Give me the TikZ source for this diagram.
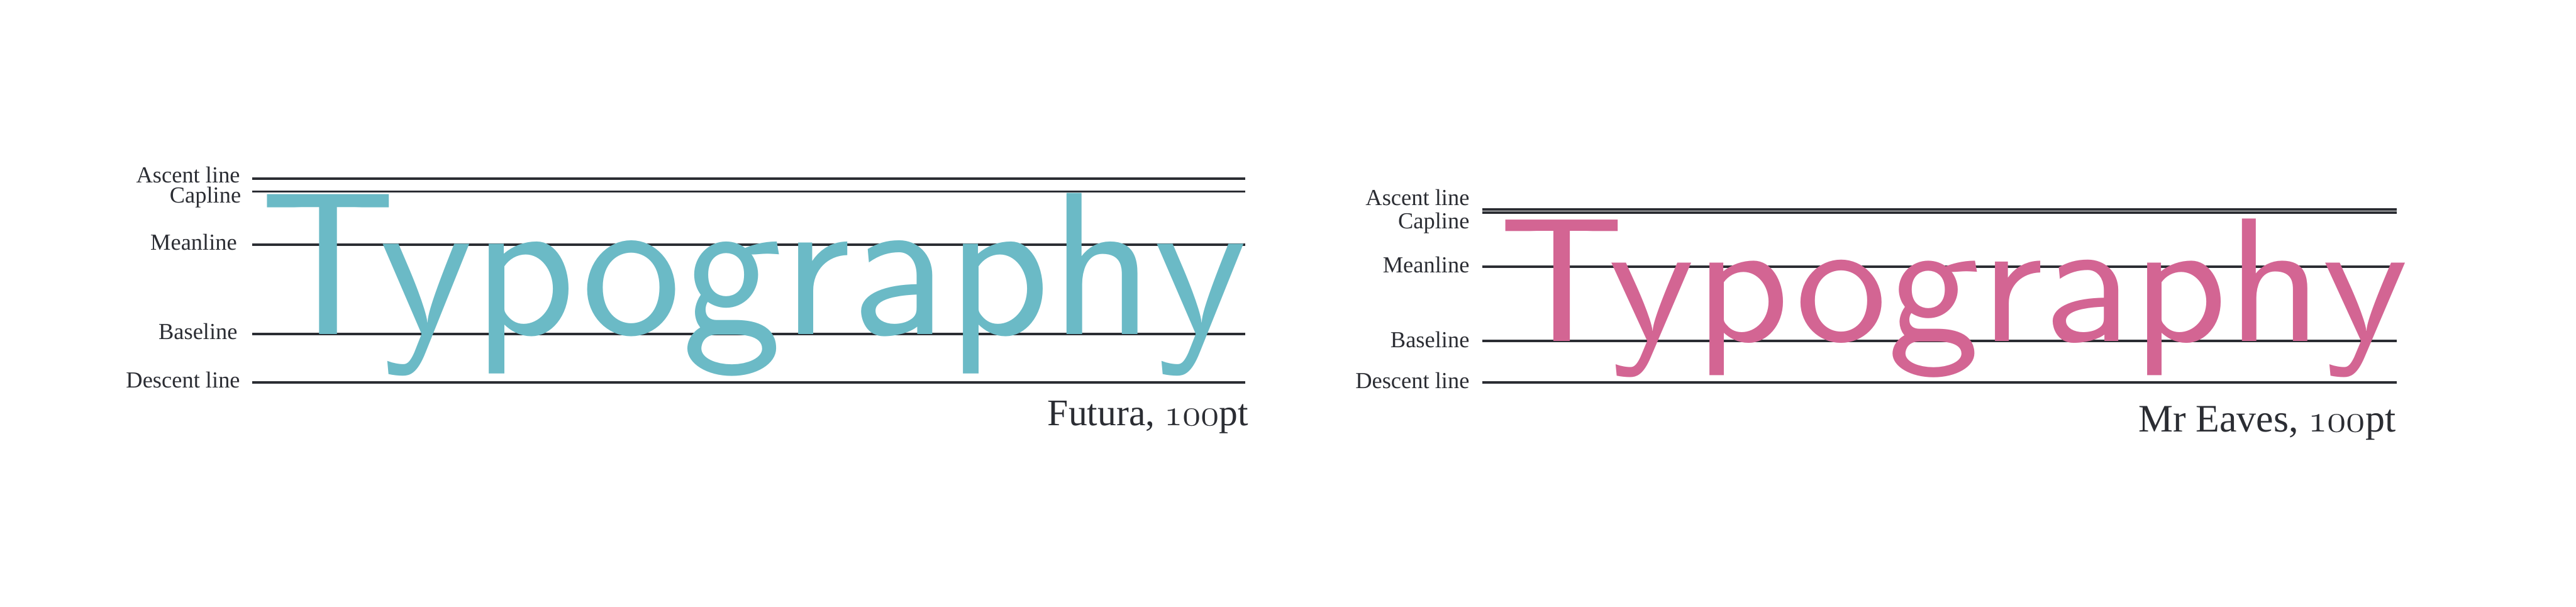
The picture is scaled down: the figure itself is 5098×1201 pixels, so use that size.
\documentclass[tikz,border=0pt]{standalone}
\usepackage{fix-cm}
\usepackage{graphicx}
\usepackage{fontspec}
\setmainfont{Liberation Serif}
\definecolor{ink}{HTML}{2B2D33}
\definecolor{futura}{HTML}{6BBAC6}
\definecolor{eaves}{HTML}{D36593}
\newcommand{\osnum}[1]{{\fontencoding{OML}\fontfamily{cmm}\fontseries{m}\fontshape{it}\selectfont #1}}
\begin{document}
\begin{tikzpicture}[x=0.01cm,y=-0.01cm,
  guide/.style={draw=ink,line width=0.048cm},
  lbl/.style={anchor=base east,inner sep=0,outer sep=0,text=ink,font=\fontsize{12.9}{15}\selectfont},
  capleft/.style={anchor=base east,inner sep=0,outer sep=0,text=ink,font=\fontsize{21.1}{25}\selectfont},
  capright/.style={anchor=base east,inner sep=0,outer sep=0,text=ink,font=\fontsize{21.9}{26}\selectfont},
  word/.style={anchor=base west,inner sep=0,outer sep=0}]
\useasboundingbox (0,0) rectangle (5098,1201);
% ---------- left panel: Futura ----------
\foreach \yy in {353,379,484,661,757} \draw[guide] (499,\yy) -- (2464,\yy);
\node[word,text=futura] (wordL) at (515,661) {\resizebox{19.50cm}{2.79cm}{\sffamily Typography}};
\node[lbl] (aL) at (475,362) {Ascent line};
\node[lbl] (cL) at (477,402) {Capline};
\node[lbl] (mL) at (469,495) {Meanline};
\node[lbl] (bL) at (470,671) {Baseline};
\node[lbl] (dL) at (475,767) {Descent line};
\node[capleft] (capL) at (2471,842) {Futura, \osnum{100}pt};
% ---------- right panel: Mr Eaves ----------
\foreach \yy in {415,421,528,675,757} \draw[guide] (2933,\yy) -- (4743,\yy);
\node[word,text=eaves] (wordR) at (2966,675) {\resizebox{17.99cm}{2.42cm}{\sffamily Typography}};
\node[lbl] (aR) at (2908,407) {Ascent line};
\node[lbl] (cR) at (2908,453) {Capline};
\node[lbl] (mR) at (2908,539) {Meanline};
\node[lbl] (bR) at (2908,688) {Baseline};
\node[lbl] (dR) at (2908,768) {Descent line};
\node[capright] (capR) at (4741,855) {Mr Eaves, \osnum{100}pt};
\end{tikzpicture}
\end{document}
